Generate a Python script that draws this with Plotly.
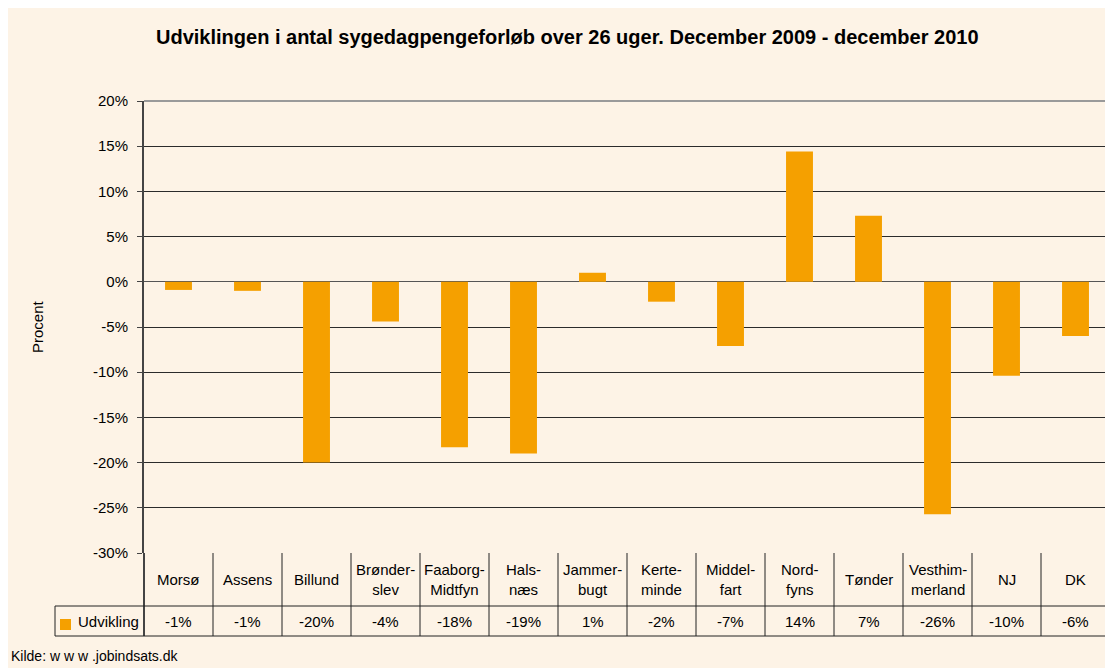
import plotly.graph_objects as go

categories = ["Morsø", "Assens", "Billund", "Brønder-<br>slev", "Faaborg-<br>Midtfyn", "Hals-<br>næs",
              "Jammer-<br>bugt", "Kerte-<br>minde", "Middel-<br>fart", "Nord-<br>fyns", "Tønder",
              "Vesthim-<br>merland", "NJ", "DK"]
values = [-0.9, -1.0, -20.0, -4.4, -18.3, -19.0, 1.0, -2.2, -7.1, 14.4, 7.3, -25.7, -10.4, -6.0]
series_name = "Udvikling"
y_ticks = [20, 15, 10, 5, 0, -5, -10, -15, -20, -25, -30]

# page offset from default body margin
OX, OY = 8, 8
W, H = 1113 - OX, 668 - OY
L, R, T, B = 144 - OX, 3, 101 - OY, 668 - 553
PW, PH = W - L - R, H - T - B

def px(x):
    return (x - OX - L) / PW

def py(y):
    return (H - B - (y - OY)) / PH

BG = "#FDF3E6"
BAR = "#F5A000"
FONT = "Liberation Sans, Arial, sans-serif"
FS = 15

idx = list(range(len(categories)))
fig = go.Figure(go.Bar(x=idx, y=values, marker=dict(color=BAR, line=dict(width=0)),
                       width=0.39, showlegend=False, hoverinfo="y"))

shapes = []
annotations = []

line_col = "#222222"
for i in range(len(categories) + 1):
    shapes.append(dict(type="line", xref="x", yref="paper", x0=i - 0.5, x1=i - 0.5,
                       y0=py(553), y1=py(636), line=dict(color=line_col, width=1)))
shapes.append(dict(type="line", xref="paper", yref="paper", x0=px(144), x1=px(144),
                   y0=py(553), y1=py(636), line=dict(color="#444444", width=2)))
shapes.append(dict(type="line", xref="paper", yref="paper", x0=px(55), x1=px(1111),
                   y0=py(606), y1=py(606), line=dict(color=line_col, width=1)))
shapes.append(dict(type="line", xref="paper", yref="paper", x0=px(55), x1=px(1111),
                   y0=py(636), y1=py(636), line=dict(color=line_col, width=1)))
shapes.append(dict(type="line", xref="paper", yref="paper", x0=px(55), x1=px(55),
                   y0=py(606), y1=py(636), line=dict(color=line_col, width=1)))
shapes.append(dict(type="line", xref="paper", yref="paper", x0=px(144), x1=px(1111),
                   y0=py(101), y1=py(101), line=dict(color="#9a9a9a", width=2)))
shapes.append(dict(type="line", xref="paper", yref="paper", x0=px(1111), x1=px(1111),
                   y0=py(101), y1=py(553), line=dict(color="#9a9a9a", width=2)))
shapes.append(dict(type="rect", xref="paper", yref="paper", x0=px(60), x1=px(71),
                   y0=py(630), y1=py(619), fillcolor=BAR, line=dict(width=0)))

for i, (c, v) in enumerate(zip(categories, values)):
    annotations.append(dict(x=i, xref="x", y=py(579), yref="paper", text=c, showarrow=False,
                            font=dict(family=FONT, size=FS, color="black"), yanchor="middle"))
    annotations.append(dict(x=i, xref="x", y=py(621), yref="paper", text=f"{v:.0f}%", showarrow=False,
                            font=dict(family=FONT, size=FS, color="black"), yanchor="middle"))

annotations.append(dict(x=px(76), xref="paper", y=py(621), yref="paper", text=series_name,
                        showarrow=False, xanchor="left", yanchor="middle",
                        font=dict(family=FONT, size=FS, color="black")))
annotations.append(dict(x=px(567), xref="paper", y=py(37), yref="paper",
                        text="<b>Udviklingen i antal sygedagpengeforløb over 26 uger. December 2009 - december 2010</b>",
                        showarrow=False, xanchor="center", yanchor="middle",
                        font=dict(family=FONT, size=20, color="black")))
annotations.append(dict(x=px(37), xref="paper", y=py(327), yref="paper", text="Procent",
                        showarrow=False, textangle=-90, xanchor="center", yanchor="middle",
                        font=dict(family=FONT, size=FS, color="black")))
annotations.append(dict(x=px(9), xref="paper", y=py(656), yref="paper", text="Kilde: w w w .jobindsats.dk",
                        showarrow=False, xanchor="left", yanchor="middle",
                        font=dict(family=FONT, size=14, color="black")))

fig.update_layout(
    width=W, height=H,
    margin=dict(l=L, r=R, t=T, b=B),
    paper_bgcolor=BG, plot_bgcolor=BG,
    shapes=shapes, annotations=annotations,
    xaxis=dict(range=[-0.5, len(categories) - 0.5], showticklabels=False, showgrid=False,
               zeroline=False, showline=False, ticks=""),
    yaxis=dict(range=[-30, 20], tickvals=y_ticks, ticktext=[f"{t}%" for t in y_ticks],
               showgrid=True, gridcolor="#2b2b2b", gridwidth=1, zeroline=True, zerolinecolor="#555555",
               zerolinewidth=1, showline=True, linecolor="#444444", linewidth=2,
               ticks="outside", ticklen=5, tickcolor="#444444", ticklabelstandoff=6,
               tickfont=dict(family=FONT, size=FS, color="black")),
    bargap=0.6,
)

fig.write_html("out.html")
